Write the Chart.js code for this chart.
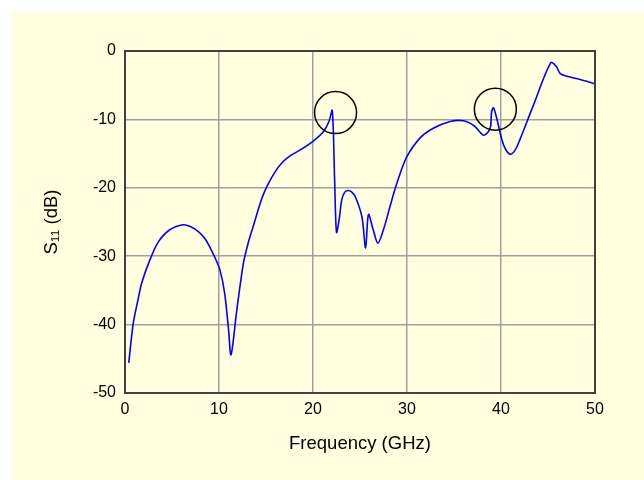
<!DOCTYPE html>
<html><head><meta charset="utf-8">
<script src="https://cdn.jsdelivr.net/npm/chart.js@4/dist/chart.umd.min.js"></script>
<style>html,body{margin:0;padding:0;background:#fff}#wrap{width:644px;height:480px}</style>
</head><body><div id="wrap"><canvas id="c" width="644" height="480"></canvas></div>
<script>
const freq = [0.4,0.88,1.41,1.8,2.66,3.55,4.8,6.2,7.0,7.8,8.5,9.0,9.6,10.1,10.6,11.0,11.28,11.9,12.6,13.1,13.65,14.5,15.1,16.0,16.8,17.6,18.6,20.0,21.1,21.7,22.05,22.3,22.5,22.8,23.05,23.4,23.76,24.1,24.5,25.2,25.6,25.9,26.4,26.9,27.5,28.2,28.7,29.3,30.0,31.4,32.8,34.6,36.0,37.2,38.1,38.65,38.9,39.0,39.2,39.5,40.1,40.5,41.0,41.5,42.0,43.4,45.3,45.9,46.3,47.0,48.5,50.0];
const s11 = [-45.6,-39.8,-36.2,-33.8,-30.5,-27.9,-26.1,-25.4,-25.7,-26.4,-27.4,-28.6,-30.3,-32.0,-35.4,-40.5,-44.4,-37.8,-31.0,-28.1,-25.6,-21.8,-19.8,-17.6,-16.2,-15.3,-14.5,-13.2,-11.8,-10.3,-8.7,-18.8,-26.5,-24.5,-21.8,-20.6,-20.4,-20.6,-21.3,-24.2,-28.8,-23.9,-26.1,-28.1,-26.1,-22.7,-20.3,-17.8,-15.4,-12.7,-11.3,-10.3,-10.2,-11.0,-12.3,-11.8,-11.0,-8.9,-8.3,-9.6,-13.0,-14.4,-15.1,-14.5,-13.0,-8.1,-1.7,-2.3,-3.3,-3.7,-4.2,-4.8];
const circleX = [22.4, 39.4];
const circleY = [-9.0, -8.5];
const xTicks = [0,10,20,30,40,50];
const yTicks = [0,-10,-20,-30,-40,-50];

const bgPlugin = {
  id:'bg',
  beforeDraw(chart){
    const ctx = chart.ctx;
    ctx.save();
    ctx.fillStyle = '#ffffff';
    ctx.fillRect(0,0,chart.width,chart.height);
    ctx.fillStyle = '#ffffe0';
    ctx.fillRect(12,12,chart.width-12,chart.height-12);
    ctx.restore();
  },
  afterDatasetsDraw(chart){
    const a = chart.chartArea, ctx = chart.ctx;
    ctx.save();
    ctx.strokeStyle = '#404040';
    ctx.lineWidth = 2;
    ctx.strokeRect(a.left, a.top, a.right - a.left, a.bottom - a.top);
    ctx.restore();
  }
};

new Chart(document.getElementById('c'), {
  type: 'scatter',
  data: {
    datasets: [
      {
        data: circleX.map((x,i)=>({x:x,y:circleY[i]})),
        showLine:false,
        pointRadius:21,
        pointHoverRadius:21,
        pointStyle:'circle',
        backgroundColor:'rgba(0,0,0,0)',
        borderColor:'#000000',
        borderWidth:1.5
      },
      {
        data: freq.map((x,i)=>({x:x,y:s11[i]})),
        showLine:true,
        borderColor:'#0000ff',
        borderWidth:1.6,
        pointRadius:0,
        tension:0.3,
        fill:false
      }
    ]
  },
  options: {
    responsive:false,
    animation:false,
    events:[],
    layout:{padding:{left:0,right:49,top:51,bottom:0}},
    plugins:{legend:{display:false},tooltip:{enabled:false}},
    scales:{
      x:{
        type:'linear', min:0, max:50,
        afterBuildTicks(s){ s.ticks = xTicks.map(v=>({value:v})); },
        afterFit(s){ s.height = 87; },
        grid:{color:'#a0a0a0', lineWidth:1.5, drawTicks:false},
        border:{display:false},
        ticks:{color:'#000', font:{family:'Liberation Sans, Arial', size:16}, padding:7, maxRotation:0},
        title:{display:true, text:'Frequency (GHz)', color:'#000', font:{family:'Liberation Sans, Arial', size:18.5}, padding:{top:0,bottom:25}}
      },
      y:{
        type:'linear', min:-50, max:0,
        afterBuildTicks(s){ s.ticks = yTicks.map(v=>({value:v})); },
        afterFit(s){ s.width = 125; },
        grid:{color:'#a0a0a0', lineWidth:1.5, drawTicks:false},
        border:{display:false},
        ticks:{color:'#000', font:{family:'Liberation Sans, Arial', size:16}, padding:9},
        title:{display:true, text:'S\u2081\u2081 (dB)', color:'#000', font:{family:'Liberation Sans, Arial', size:18.5}, padding:{top:41}}
      }
    }
  },
  plugins:[bgPlugin]
});
</script>
</body></html>
